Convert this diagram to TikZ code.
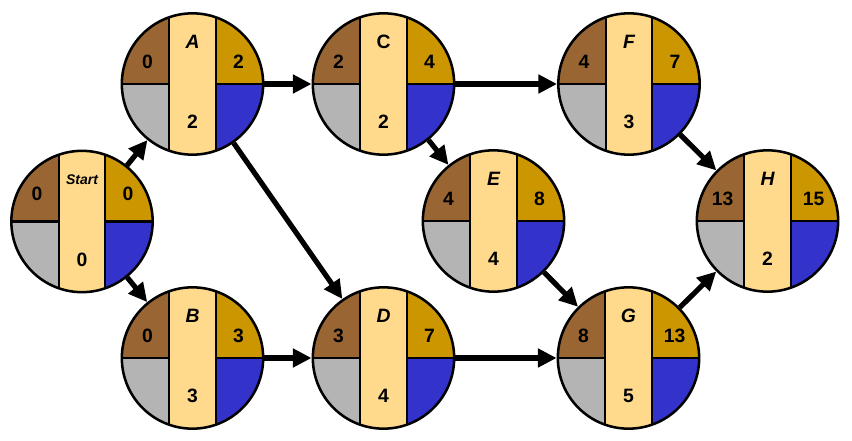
\documentclass[tikz,border=0pt]{standalone}
\usepackage{fontspec}
\setmainfont{Liberation Sans}
\usetikzlibrary{arrows.meta}
\definecolor{esbrown}{RGB}{153,102,51}
\definecolor{efgold}{RGB}{204,150,0}
\definecolor{durstrip}{RGB}{255,218,140}
\definecolor{lsgray}{RGB}{180,180,180}
\definecolor{lfblue}{RGB}{51,51,204}
\tikzset{
  act/.style={circle, draw, line width=1.9pt, minimum size=106pt, inner sep=0pt,
    path picture={
      \fill[esbrown] (path picture bounding box.north west) rectangle (path picture bounding box.center);
      \fill[efgold] (path picture bounding box.north east) rectangle (path picture bounding box.center);
      \fill[lsgray] (path picture bounding box.south west) rectangle (path picture bounding box.center);
      \fill[lfblue] (path picture bounding box.south east) rectangle (path picture bounding box.center);
      \draw[line width=1.7pt] (path picture bounding box.west) -- (path picture bounding box.east);
      \filldraw[fill=durstrip, line width=1.7pt] ([xshift=-17.5pt]path picture bounding box.north) rectangle ([xshift=17.5pt]path picture bounding box.south);
    }},
  num/.style={inner sep=0pt, font=\bfseries\fontsize{14.5}{16}\selectfont},
  actname/.style={inner sep=0pt, font=\bfseries\itshape\fontsize{14.5}{16}\selectfont},
  flow/.style={-{Triangle[length=14pt,width=13.5pt]}, line width=3.9pt},
}
% activity node: [row of ES/EF] name, position, label, ES, EF, duration
\newcommand{\activity}[7][-22]{%
  \begin{scope}[shift={(#3)}]
    \node[act] (#2) at (0,0) {};
    \node[actname] (#2-name) at (0,-42) {#4};
    \node[num] (#2-es) at (-45,#1) {#5};
    \node[num] (#2-ef) at (46,#1) {#6};
    \node[num] (#2-dur) at (0,38) {#7};
  \end{scope}}

\begin{document}
\begin{tikzpicture}[x=0.75pt,y=0.75pt,yscale=-1,xscale=1]
\useasboundingbox (0,0) rectangle (852,441);

\activity[-28]{Start}{82,221.5}{\fontsize{10.5}{12}\selectfont Start}{0}{0}{0}
\activity{A}{192.5,84}{A}{0}{2}{2}
\activity{B}{192.5,358}{B}{0}{3}{3}
\activity{C}{383.5,84}{\upshape C}{2}{4}{2}
\activity{D}{383.5,358}{D}{3}{7}{4}
\activity{E}{493.5,221}{E}{4}{8}{4}
\activity{F}{629,84}{F}{4}{7}{3}
\activity{G}{628.5,358}{G}{8}{13}{5}
\activity{H}{767.5,221}{H}{13}{15}{2}

\draw[flow] (Start) -- (A);
\draw[flow] (Start) -- (B);
\draw[flow] (A) -- (C);
\draw[flow] (A) -- (D);
\draw[flow] (B) -- (D);
\draw[flow] (C) -- (F);
\draw[flow] (C) -- (E);
\draw[flow] (D) -- (G);
\draw[flow] (E) -- (G);
\draw[flow] (F) -- (H);
\draw[flow] (G) -- (H);
\end{tikzpicture}
\end{document}
